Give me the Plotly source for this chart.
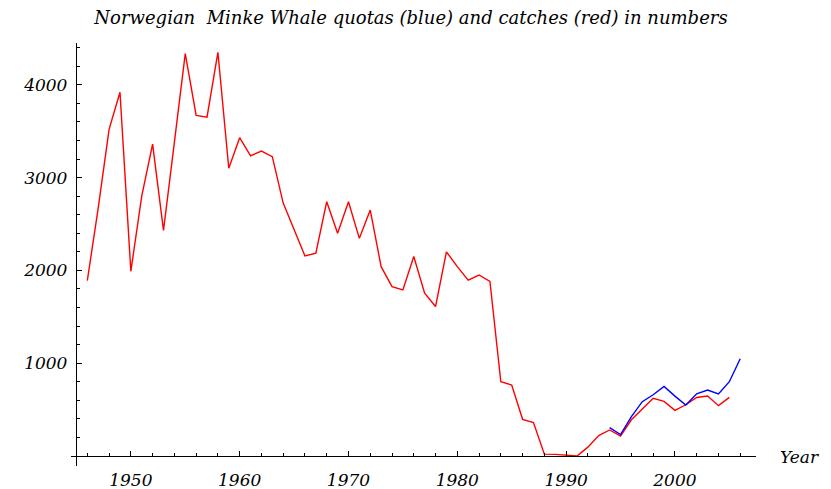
import plotly.graph_objects as go

catch_years = list(range(1946, 2006))
catches = [1890, 2670, 3520, 3920, 1990, 2800, 3360, 2430, 3380, 4335,
           3670, 3650, 4350, 3100, 3430, 3235, 3285, 3225, 2725, 2435,
           2155, 2185, 2740, 2400, 2740, 2345, 2650, 2040, 1825, 1790,
           2150, 1755, 1610, 2200, 2040, 1895, 1950, 1880, 800, 765,
           395, 360, 20, 17, 5, 0, 95, 220, 280, 215,
           390, 510, 622, 588, 492, 552, 630, 646, 542, 632]

quota_years = list(range(1994, 2007))
quotas = [305, 230, 425, 585, 660, 750, 645, 549, 670, 711, 668, 800, 1048]

x_major = [1950, 1960, 1970, 1980, 1990, 2000]
x_minor = list(range(1946, 2008, 2))
y_major = [1000, 2000, 3000, 4000]
y_minor = list(range(200, 4500, 200))

FONT = "DejaVu Serif"
W, H = 823, 481
ML, MT, MR, MB = 63, 35, 75, 23
PW, PH = W - ML - MR, H - MT - MB

fig = go.Figure()
fig.add_trace(go.Scatter(x=catch_years, y=catches, mode="lines",
                         line=dict(color="#ff0000", width=1.4), showlegend=False))
fig.add_trace(go.Scatter(x=quota_years, y=quotas, mode="lines",
                         line=dict(color="#0000ff", width=1.4), showlegend=False))

fig.update_layout(
    width=W, height=H,
    margin=dict(l=ML, r=MR, t=MT, b=MB, autoexpand=False),
    plot_bgcolor="white", paper_bgcolor="white",
    title=dict(text="<i>Norwegian  Minke Whale quotas (blue) and catches (red) in numbers</i>",
               x=403 / W, xref="container", y=1 - 10 / H, yref="container",
               xanchor="center", yanchor="middle",
               font=dict(family=FONT, size=18, color="black")),
    xaxis=dict(range=[1944.5, 2007.45], anchor="free", position=10 / PH, automargin=False,
               showgrid=False, zeroline=False, showline=True, linecolor="black", linewidth=1.3,
               tickmode="array", tickvals=x_major, ticktext=[f"<i>{v}</i>" for v in x_major],
               ticks="inside", ticklen=5, tickcolor="black", tickwidth=1.3,
               ticklabelstandoff=8,
               minor=dict(tickmode="array", tickvals=x_minor, ticks="inside", ticklen=3,
                          tickcolor="black", tickwidth=1.2),
               tickfont=dict(family=FONT, size=17, color="black")),
    yaxis=dict(range=[-108, 4450], anchor="free", position=5 / PW, automargin=False,
               showgrid=False, zeroline=False, showline=True, linecolor="black", linewidth=1.3,
               tickmode="array", tickvals=y_major, ticktext=[f"<i>{v}</i>" for v in y_major],
               ticks="inside", ticklen=5, tickcolor="black", tickwidth=1.3,
               ticklabelstandoff=5,
               minor=dict(tickmode="array", tickvals=y_minor, ticks="inside", ticklen=3,
                          tickcolor="black", tickwidth=1.2),
               tickfont=dict(family=FONT, size=17, color="black")),
)

fig.add_annotation(text="<i>Year</i>", xref="paper", yref="paper",
                   x=(770 - ML) / PW, y=9 / PH, xanchor="left", yanchor="middle",
                   showarrow=False, font=dict(family=FONT, size=17, color="black"))

fig.write_html("out.html")
